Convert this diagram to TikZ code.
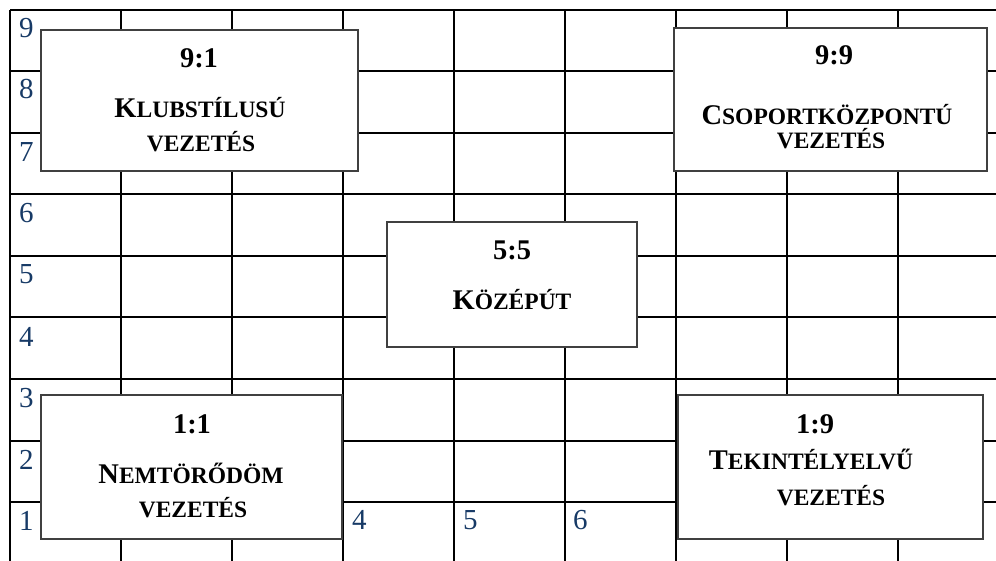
\documentclass[tikz,border=0pt]{standalone}
\usepackage{fontspec}
\setmainfont{Liberation Serif}
\definecolor{axisblue}{RGB}{23,58,102}
\newcommand{\bigF}{\fontsize{28.5}{30}\selectfont\bfseries}
\newcommand{\smF}{\fontsize{23.5}{26}\selectfont\bfseries}
\newcommand{\fsc}[2]{{\bigF #1}{\smF #2}}
\tikzset{
  gridline/.style={line width=1.6pt, black},
  stylebox/.style={draw=black!75, line width=1.3pt, fill=white, inner sep=0pt},
  ttl/.style={inner sep=0pt, anchor=base, font=\bigF},
  sc/.style={inner sep=0pt, anchor=base},
  axlab/.style={inner sep=0pt, anchor=base west, text=axisblue, font=\fontsize{29}{30}\selectfont},
}
\begin{document}
\begin{tikzpicture}[x=1pt,y=-1pt]
\useasboundingbox (0,0) rectangle (996,561);
% grid
\foreach \k in {0,...,8}{
  \draw[gridline] ({10+111*\k},10) -- ({10+111*\k},561);
}
\foreach \yy in {10,71,133,194,256,317,379,441,502}{
  \draw[gridline] (10,\yy) -- (996,\yy);
}
% axis labels
\foreach \n/\yy in {9/38,8/99,7/162,6/223,5/284,4/346,3/407,2/469,1/530}{
  \node[axlab] (l\n) at (19,\yy) {\n};
}
\node[axlab] (b4) at (352,529) {4};
\node[axlab] (b5) at (463,529) {5};
\node[axlab] (b6) at (573,529) {6};
% boxes
\node[stylebox, minimum width=317pt, minimum height=141pt] (b91) at (199.5,100.5) {};
\node[stylebox, minimum width=313pt, minimum height=143pt] (b99) at (830.5,99.5) {};
\node[stylebox, minimum width=250pt, minimum height=125pt] (b55) at (512,284.5) {};
\node[stylebox, minimum width=301pt, minimum height=144pt] (b11) at (191.5,467) {};
\node[stylebox, minimum width=305pt, minimum height=144pt] (b19) at (830.5,467) {};
% texts 9:1
\node[ttl] (t91a) at (199,68) {9:1};
\node[sc] (t91b) at (200,118) {\fsc{K}{LUBSTÍLUSÚ}};
\node[sc] (t91c) at (201,152) {\smF VEZETÉS};
% 9:9
\node[ttl] (t99a) at (834,65) {9:9};
\node[sc] (t99b) at (827,125) {\fsc{C}{SOPORTKÖZPONTÚ}};
\node[sc] (t99c) at (831,149) {\smF VEZETÉS};
% 5:5
\node[ttl] (t55a) at (512,260) {5:5};
\node[sc] (t55b) at (512,310) {\fsc{K}{ÖZÉPÚT}};
% 1:1
\node[ttl] (t11a) at (192,433) {1:1};
\node[sc] (t11b) at (191,483) {\fsc{N}{EMTÖRŐDÖM}};
\node[sc] (t11c) at (193,517) {\smF VEZETÉS};
% 1:9
\node[ttl] (t19a) at (815,433) {1:9};
\node[sc] (t19b) at (811,469) {\fsc{T}{EKINTÉLYELVŰ}};
\node[sc] (t19c) at (831,505) {\smF VEZETÉS};
\end{tikzpicture}
\end{document}
